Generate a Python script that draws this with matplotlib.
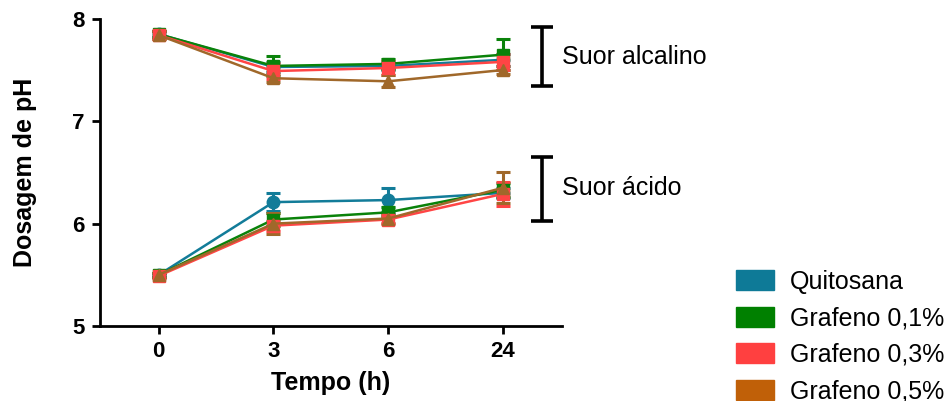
import matplotlib
matplotlib.use("Agg")
import matplotlib.pyplot as plt
import numpy as np
from matplotlib.patches import Patch

plt.rcParams["font.family"] = ["Liberation Sans", "DejaVu Sans"]

times = ["0", "3", "6", "24"]
groups = ["Quitosana", "Grafeno 0,1%", "Grafeno 0,3%", "Grafeno 0,5%"]

# pH in alkaline sweat (mean, SD)
alk_quitosana = [7.85, 7.53, 7.54, 7.60]
alk_graf01 = [7.85, 7.54, 7.56, 7.65]
alk_graf03 = [7.84, 7.49, 7.52, 7.58]
alk_graf05 = [7.84, 7.42, 7.39, 7.50]
alk_sd_quitosana = [0.03, 0.05, 0.04, 0.06]
alk_sd_graf01 = [0.03, 0.10, 0.05, 0.15]
alk_sd_graf03 = [0.04, 0.08, 0.07, 0.08]
alk_sd_graf05 = [0.04, 0.04, 0.06, 0.04]

# pH in acidic sweat (mean, SD)
acid_quitosana = [5.50, 6.21, 6.23, 6.30]
acid_graf01 = [5.50, 6.04, 6.11, 6.33]
acid_graf03 = [5.49, 5.98, 6.04, 6.29]
acid_graf05 = [5.50, 6.00, 6.05, 6.35]
acid_sd_quitosana = [0.02, 0.09, 0.12, 0.05]
acid_sd_graf01 = [0.02, 0.06, 0.05, 0.07]
acid_sd_graf03 = [0.02, 0.05, 0.04, 0.12]
acid_sd_graf05 = [0.02, 0.10, 0.04, 0.15]

line_colors = ["#127C99", "#0A820A", "#FF4545", "#A0682A"]
legend_colors = ["#0E7A97", "#008000", "#FF4040", "#C06008"]
markers = ["o", "s", "s", "^"]

fig = plt.figure(figsize=(9.52, 4.01), dpi=100)
ax = fig.add_axes([0.105, 0.187, 0.485, 0.766])

x = np.arange(len(times))
alk = [(alk_quitosana, alk_sd_quitosana), (alk_graf01, alk_sd_graf01),
       (alk_graf03, alk_sd_graf03), (alk_graf05, alk_sd_graf05)]
acid = [(acid_quitosana, acid_sd_quitosana), (acid_graf01, acid_sd_graf01),
        (acid_graf03, acid_sd_graf03), (acid_graf05, acid_sd_graf05)]

for series in (alk, acid):
    for (mean, sd), color, mk in zip(series, line_colors, markers):
        ax.errorbar(x, mean, yerr=sd, color=color, marker=mk, markersize=9,
                    linewidth=1.8, elinewidth=2.2, capsize=5, capthick=2.2,
                    clip_on=False, zorder=3)

ax.set_xlim(-0.513, 3.513)
ax.set_ylim(5, 8)
ax.set_xticks(x)
ax.set_xticklabels(times)
ax.set_yticks([5, 6, 7, 8])
ax.tick_params(axis="both", labelsize=16, width=2, length=6,
               direction="out", pad=5)
for lbl in ax.get_xticklabels() + ax.get_yticklabels():
    lbl.set_fontweight("bold")
ax.set_xlabel("Tempo (h)", fontsize=18, fontweight="bold", labelpad=6)
ax.set_ylabel("Dosagem de pH", fontsize=18, fontweight="bold", labelpad=25)
for side in ("top", "right"):
    ax.spines[side].set_visible(False)
for side in ("left", "bottom"):
    ax.spines[side].set_linewidth(2)

# bracket markers for the two sweat conditions
ax.errorbar([3.34], [7.63], yerr=[0.29], color="black", linewidth=2.6,
            capsize=8, capthick=2.6, clip_on=False)
ax.errorbar([3.34], [6.34], yerr=[0.31], color="black", linewidth=2.6,
            capsize=8, capthick=2.6, clip_on=False)
ax.text(3.52, 7.63, "Suor alcalino", fontsize=18, va="center", ha="left",
        clip_on=False)
ax.text(3.52, 6.35, "Suor ácido", fontsize=18, va="center", ha="left",
        clip_on=False)

handles = [Patch(facecolor=c, edgecolor=c) for c in legend_colors]
fig.legend(handles, groups, loc="upper left", bbox_to_anchor=(0.763, 0.352),
           frameon=False, fontsize=18, handlelength=1.5, handleheight=0.85,
           handletextpad=0.65, labelspacing=0.5, borderaxespad=0)

fig.savefig("out.png", dpi=100)
